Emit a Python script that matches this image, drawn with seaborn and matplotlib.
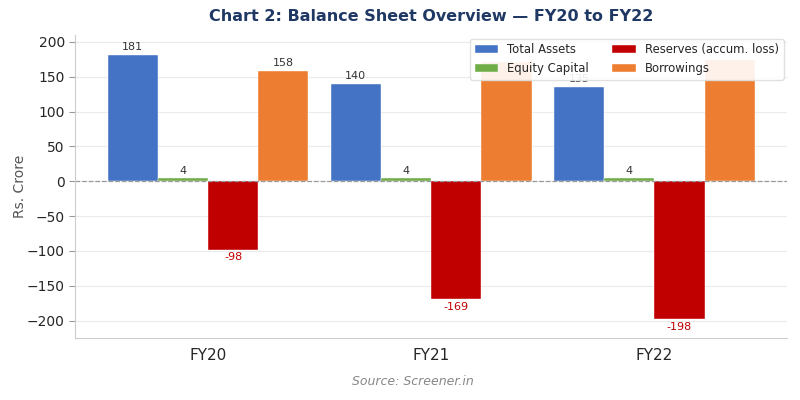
import pandas as pd
import matplotlib
matplotlib.use('agg')
import matplotlib.pyplot as plt
import seaborn as sns

years = ['FY20', 'FY21', 'FY22']
series = ['Total Assets', 'Equity Capital', 'Reserves (accum. loss)', 'Borrowings']
total_assets = [181, 140, 135]
equity_capital = [4, 4, 4]
reserves = [-98, -169, -198]
borrowings = [158, 171, 174]
colors = ['#4472C4', '#70AD47', '#C00000', '#ED7D31']

rows = []
for name, vals in zip(series, [total_assets, equity_capital, reserves, borrowings]):
    for y, v in zip(years, vals):
        rows.append({'year': y, 'series': name, 'value': v})
df = pd.DataFrame(rows)

sns.set_style('whitegrid')
plt.rcParams['font.family'] = ['DejaVu Sans']

fig = plt.figure(figsize=(8, 4), dpi=100)
ax = fig.add_axes([0.094, 0.155, 0.89, 0.7575])
sns.barplot(data=df, x='year', y='value', hue='series', order=years, hue_order=series,
            palette=colors, width=0.9, gap=0, saturation=1, ax=ax,
            edgecolor='white', linewidth=0.3)

# value labels
for cont, name in zip(ax.containers, series):
    vals = df[df['series'] == name]['value'].tolist()
    if name == 'Borrowings':
        labs = [str(vals[0]), '', '']  # hidden behind legend in the original
    else:
        labs = [str(v) for v in vals]
    col = '#C00000' if name.startswith('Reserves') else '#333333'
    ax.bar_label(cont, labels=labs, padding=2, fontsize=8, color=col)

ax.axhline(0, color='#999999', linestyle='--', linewidth=0.9, zorder=1)
ax.set_xlim(-0.595, 2.595)
ax.set_ylim(-225, 210)
ax.set_yticks(range(-200, 201, 50))
ax.grid(axis='x', visible=False)
ax.grid(axis='y', color='#ebebeb', linewidth=0.8)
ax.set_axisbelow(True)
for s in ['top', 'right']:
    ax.spines[s].set_visible(False)
for s in ['left', 'bottom']:
    ax.spines[s].set_color('#cccccc')
ax.tick_params(axis='x', labelsize=11, length=4, color='#cccccc')
ax.tick_params(axis='y', labelsize=10, length=4, left=True, color='#999999')
ax.set_xlabel('')
ax.set_ylabel('Rs. Crore', fontsize=10, color='#555555', labelpad=0)
ax.set_title('Chart 2: Balance Sheet Overview — FY20 to FY22', fontsize=11.5,
             fontweight='bold', color='#1F3864', pad=10)
ax.legend(loc='upper right', ncol=2, fontsize=8.4, framealpha=0.9,
          edgecolor='#dddddd', borderaxespad=0.3)
fig.text(0.516, 0.037, 'Source: Screener.in', ha='center', fontsize=9,
         style='italic', color='#888888')

fig.savefig('out.png', dpi=100)
